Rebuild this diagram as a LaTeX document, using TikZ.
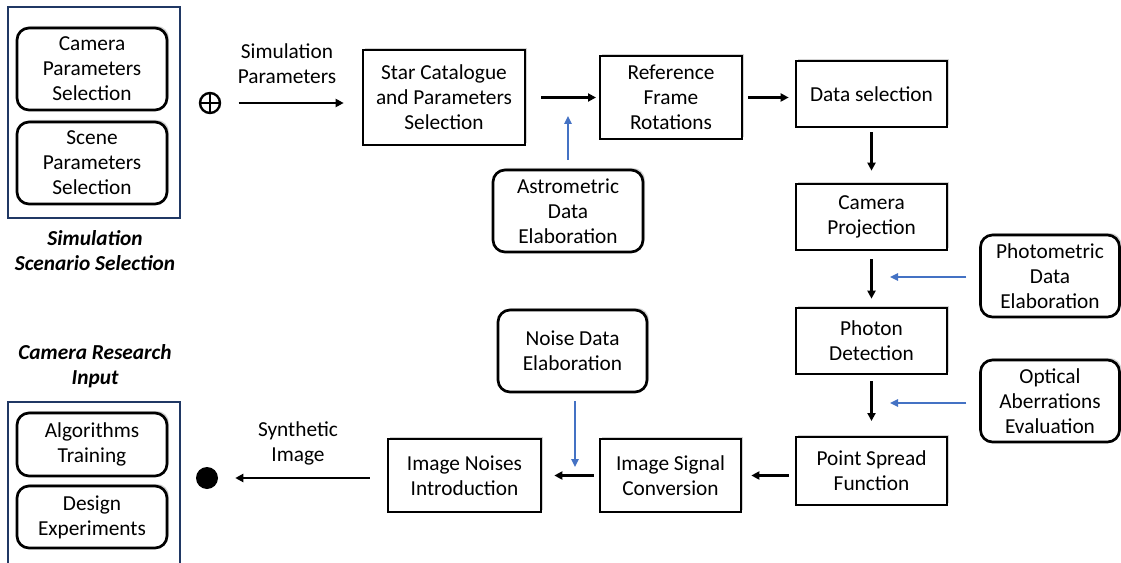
\documentclass[tikz,border=0pt]{standalone}
\usepackage{fontspec}
\setmainfont{Carlito}
\usetikzlibrary{arrows.meta,shadows}
\definecolor{groupnavy}{RGB}{32,56,100}
\definecolor{feedblue}{RGB}{68,114,196}
\tikzset{
  block/.style={draw, line width=2pt, fill=white, align=center, inner sep=1pt,
    font=\fontsize{16}{18.8}\selectfont,
    drop shadow={shadow xshift=1.5pt, shadow yshift=1.5pt, opacity=0.35, fill=gray}},
  roundblock/.style={block, rounded corners=9pt},
  flow/.style={-{Triangle[length=6pt,width=6pt]}, line width=1.8pt},
  feed/.style={-{Triangle[length=6pt,width=5.5pt]}, line width=1.5pt, draw=feedblue, fill=feedblue},
  group/.style={draw=groupnavy, line width=1.8pt},
  caption/.style={align=center, font=\fontsize{16}{18.8}\selectfont\bfseries\itshape},
  flowlabel/.style={align=center, font=\fontsize{16}{18.8}\selectfont}
}
\begin{document}
\begin{tikzpicture}[x=0.75pt,y=0.75pt,yscale=-1,xscale=1]
\clip (0,0) rectangle (1121,563);
\draw [group] (8,7) rectangle (180,218);
\draw [group] (8,402) rectangle (180,600);
\node [roundblock, minimum width=112.5pt, minimum height=61.5pt] (campar) at (92,69) {Camera\\Parameters\\Selection};
\node [roundblock, minimum width=112.5pt, minimum height=61.5pt] (scenepar) at (92,163) {Scene\\Parameters\\Selection};
\node [caption] (simcap) at (95,251) {Simulation\\Scenario Selection};
\node [caption] (rescap) at (95,366) {Camera Research\\Input};
\node [roundblock, minimum width=112.5pt, minimum height=47.25pt] (algo) at (92,444.5) {Algorithms\\Training};
\node [roundblock, minimum width=112.5pt, minimum height=46.5pt] (design) at (92,517) {Design\\Experiments};

\node [circle, draw, line width=1.8pt, minimum size=15pt, inner sep=0pt] (sum) at (210,103) {};
\draw [line width=1.8pt] (sum.north) -- (sum.south) (sum.west) -- (sum.east);
\node [circle, fill, minimum size=16.5pt, inner sep=0pt] (out) at (207,478) {};
\node [flowlabel] (simpar) at (287,64) {Simulation\\Parameters};
\node [flowlabel] (synth) at (298,443) {Synthetic\\Image};

\node [block, minimum width=121.5pt, minimum height=71.25pt] (star) at (444,97.5) {Star Catalogue\\and Parameters\\Selection};
\node [block, minimum width=106.5pt, minimum height=62.25pt] (refrot) at (671,97.5) {Reference\\Frame\\Rotations};
\node [block, minimum width=113.25pt, minimum height=49.5pt] (datasel) at (871.5,94) {Data selection};
\node [block, minimum width=113.25pt, minimum height=49.5pt] (campro) at (871.5,217) {Camera\\Projection};
\node [block, minimum width=113.25pt, minimum height=49.5pt] (photon) at (871.5,341) {Photon\\Detection};
\node [block, minimum width=113.25pt, minimum height=51pt] (psf) at (871.5,471) {Point Spread\\Function};
\node [block, minimum width=105.75pt, minimum height=54.75pt] (signal) at (670.5,475.5) {Image Signal\\Conversion};
\node [block, minimum width=114.75pt, minimum height=54.75pt] (noises) at (464.5,475.5) {Image Noises\\Introduction};

\node [roundblock, minimum width=112.5pt, minimum height=61.5pt] (astro) at (568,211) {Astrometric\\Data\\Elaboration};
\node [roundblock, minimum width=104.25pt, minimum height=61.5pt] (photo) at (1050,276) {Photometric\\Data\\Elaboration};
\node [roundblock, minimum width=104.25pt, minimum height=61.5pt] (optic) at (1050,401) {Optical\\Aberrations\\Evaluation};
\node [roundblock, minimum width=111.75pt, minimum height=61.5pt] (noisedata) at (572.5,351) {Noise Data\\Elaboration};

\coordinate (astroin) at (568,116);
\coordinate (photoin) at (890,277);
\coordinate (opticin) at (890,403);
\coordinate (noisein) at (575,467);

\draw [flow, shorten <=13pt, shorten >=13.5pt] (sum.east) -- (sum.east -| star.west);
\draw [flow, shorten <=11pt, shorten >=2pt] (star.east) -- (refrot.west);
\draw [flow, shorten <=3.75pt, shorten >=4.5pt] (refrot.east) -- (refrot.east -| datasel.west);
\draw [flow, shorten <=3pt, shorten >=9pt] (datasel) -- (campro);
\draw [flow, shorten <=6pt, shorten >=6pt] (campro) -- (photon);
\draw [flow, shorten <=4.5pt, shorten >=11pt] (photon) -- (psf);
\draw [flow, shorten <=4.5pt, shorten >=6.75pt] (psf.west |- signal) -- (signal);
\draw [flow, shorten <=3.75pt, shorten >=9pt] (signal) -- (noises);
\draw [flow, shorten <=12.75pt, shorten >=12.75pt] (noises.west |- out) -- (out);

\draw [feed, shorten <=6.75pt] (astro.north) -- (astroin);
\draw [feed, shorten <=9.75pt] (photo.west |- photoin) -- (photoin);
\draw [feed, shorten <=9.75pt] (optic.west |- opticin) -- (opticin);
\draw [feed, shorten <=6pt] (noisedata.south -| noisein) -- (noisein);
\end{tikzpicture}
\end{document}
